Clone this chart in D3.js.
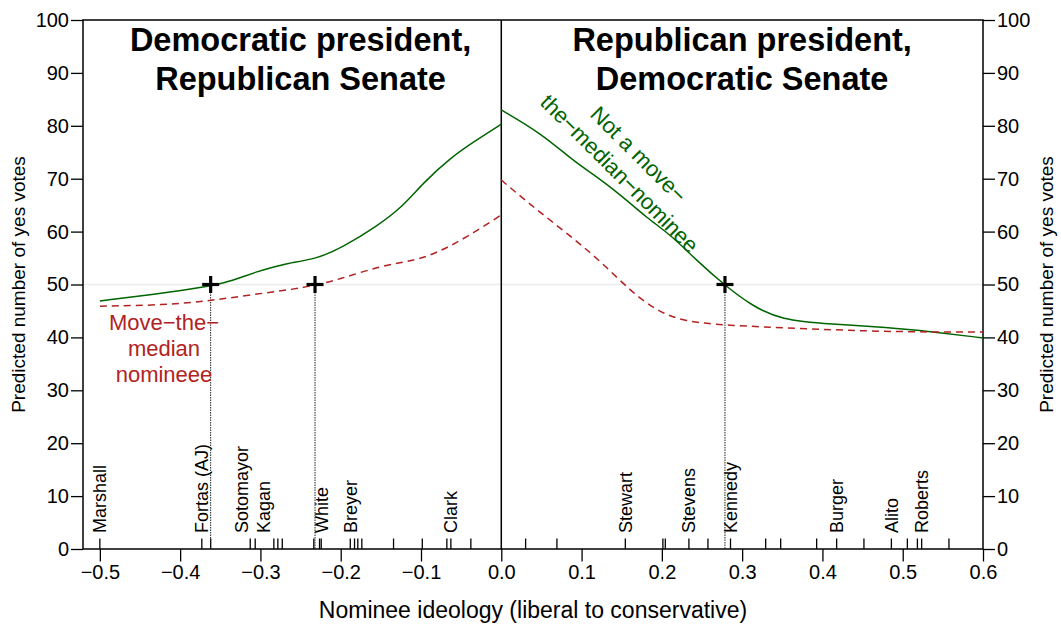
<!DOCTYPE html>
<html>
<head>
<meta charset="utf-8">
<script src="https://cdn.jsdelivr.net/npm/d3@7"></script>
<style>
  body { margin: 0; background: #fff; }
  svg { display: block; font-family: "Liberation Sans", Arial, Helvetica, sans-serif; }
</style>
</head>
<body>
<svg id="chart" width="1061" height="627"></svg>
<script>
// ---- data ----
const xTicks = [-0.5, -0.4, -0.3, -0.2, -0.1, 0.0, 0.1, 0.2, 0.3, 0.4, 0.5, 0.6];
const yTicks = [0, 10, 20, 30, 40, 50, 60, 70, 80, 90, 100];

// Predicted yes votes, Democratic president with a Republican Senate (ideology < 0)
const demNotMtmX = [-0.5, -0.43, -0.365, -0.34, -0.305, -0.272, -0.23, -0.197, -0.156, -0.123, -0.098, -0.064, -0.031, 0];
const demNotMtmY = [46.9, 48.2, 49.6, 50.5, 52.4, 53.9, 54.8, 57.1, 60.9, 64.7, 69.1, 73.9, 77.3, 80.3];
const demMtmX = [-0.5, -0.42, -0.364, -0.305, -0.243, -0.201, -0.147, -0.106, -0.073, -0.044, -0.006, 0];
const demMtmY = [45.9, 46.1, 46.9, 48.2, 49.4, 51.0, 53.7, 54.5, 56.5, 58.9, 62.5, 63.2];

// Predicted yes votes, Republican president with a Democratic Senate (ideology > 0)
const repNotMtmX = [0, 0.0495, 0.091, 0.116, 0.149, 0.182, 0.211, 0.245, 0.278, 0.311, 0.348, 0.411, 0.481, 0.535, 0.6];
const repNotMtmY = [83.0, 78.6, 73.2, 70.7, 66.9, 62.5, 59.4, 54.3, 49.9, 46.1, 43.3, 42.5, 41.9, 41.1, 39.9];
const repMtmX = [0, 0.037, 0.079, 0.12, 0.162, 0.195, 0.228, 0.278, 0.37, 0.453, 0.535, 0.6];
const repMtmY = [69.75, 65.0, 60.0, 54.95, 48.6, 44.9, 43.0, 42.3, 41.7, 41.2, 41.0, 41.0];

// Ideology where a curve crosses the 50-vote threshold
const cutpoints = [-0.362, -0.232, 0.2786];

// Nominee ideology scores (rug) and the named ones
const rugIdeology = [-0.5, -0.373, -0.362, -0.3127, -0.3065, -0.2833, -0.2783, -0.2728, -0.2335,
  -0.2264, -0.2243, -0.1881, -0.1828, -0.1787, -0.1737, -0.1342, -0.0984, -0.0678, -0.0628,
  -0.0379, 0.0303, 0.0693, 0.1545, 0.2013, 0.2043, 0.2337, 0.2574, 0.2855, 0.3293, 0.348,
  0.3928, 0.4177, 0.4517, 0.4859, 0.5058, 0.5183, 0.5236, 0.5576];
const nomineeNames = ["Marshall", "Fortas (AJ)", "Sotomayor", "Kagan", "White", "Breyer", "Clark",
  "Stewart", "Stevens", "Kennedy", "Burger", "Alito", "Roberts"];
const nomineeIdeology = [-0.5, -0.373, -0.3127, -0.3065, -0.2243, -0.1881, -0.0628,
  0.1545, 0.2337, 0.2855, 0.4177, 0.4859, 0.5236];

const panelTitles = [
  { at: -0.25, lines: ["Democratic president,", "Republican Senate"] },
  { at: 0.3, lines: ["Republican president,", "Democratic Senate"] }
];

// ---- drawing ----
const GREEN = "#006400", RED = "#B22222";
const svg = d3.select("#chart");
const x = d3.scaleLinear().domain([-0.521, 0.6]).range([83, 983]);
const y = d3.scaleLinear().domain([0, 100]).range([549, 20]);

// faint reference line at 50 votes
svg.append("line")
  .attr("x1", x.range()[0]).attr("x2", x.range()[1])
  .attr("y1", y(50)).attr("y2", y(50))
  .attr("stroke", "#ececec").attr("stroke-width", 1.5);

// axes
const fmt = d3.format(".1f");
const gx = svg.append("g").attr("transform", `translate(0,${y(0)})`)
  .call(d3.axisBottom(x).tickValues(xTicks).tickFormat(fmt).tickSize(12.5).tickPadding(3));
const gyl = svg.append("g").attr("transform", `translate(${x.range()[0]},0)`)
  .call(d3.axisLeft(y).tickValues(yTicks).tickSize(12).tickPadding(2));
const gyr = svg.append("g").attr("transform", `translate(${x.range()[1]},0)`)
  .call(d3.axisRight(y).tickValues(yTicks).tickSize(12).tickPadding(2));
[gx, gyl, gyr].forEach(g => {
  g.select(".domain").remove();
  g.selectAll(".tick line").attr("stroke", "#000").attr("stroke-width", 1.3);
  g.selectAll(".tick text").attr("fill", "#000").style("font-size", "20px")
    .style("font-family", "\"Liberation Sans\", Arial, sans-serif");
});
gx.selectAll(".tick text").attr("dy", "0.71em");

// plot frame and divider at ideology 0
svg.append("rect")
  .attr("x", x.range()[0]).attr("y", y(100))
  .attr("width", x.range()[1] - x.range()[0]).attr("height", y(0) - y(100))
  .attr("fill", "none").attr("stroke", "#000").attr("stroke-width", 1.5);
svg.append("line")
  .attr("x1", x(0)).attr("x2", x(0)).attr("y1", y(100)).attr("y2", y(0))
  .attr("stroke", "#000").attr("stroke-width", 1.5);

// axis titles
svg.append("text").attr("x", 533).attr("y", 618).attr("text-anchor", "middle")
  .style("font-size", "23px").text("Nominee ideology (liberal to conservative)");
svg.append("text").attr("transform", `translate(25,${(y(0) + y(100)) / 2}) rotate(-90)`)
  .attr("text-anchor", "middle").style("font-size", "19px").text("Predicted number of yes votes");
svg.append("text").attr("transform", `translate(1053,${(y(0) + y(100)) / 2}) rotate(-90)`)
  .attr("text-anchor", "middle").style("font-size", "19px").text("Predicted number of yes votes");

// rug of nominee ideology
svg.append("g").selectAll("line").data(rugIdeology).join("line")
  .attr("x1", d => x(d)).attr("x2", d => x(d))
  .attr("y1", y(0)).attr("y2", y(0) - 10.5)
  .attr("stroke", "#000").attr("stroke-width", 1.3);

// nominee names, nudged apart where they would overlap
const labels = nomineeNames.map((n, i) => ({ name: n, px: x(nomineeIdeology[i]) }))
  .sort((a, b) => a.px - b.px);
const minGap = 22;
for (let it = 0; it < 60; it++) {
  for (let i = 1; i < labels.length; i++) {
    const gap = labels[i].px - labels[i - 1].px;
    if (gap < minGap) {
      const s = (minGap - gap) / 2;
      labels[i - 1].px -= s;
      labels[i].px += s;
    }
  }
}
svg.append("g").selectAll("text").data(labels).join("text")
  .attr("transform", d => `translate(${d.px},${y(0) - 16}) rotate(-90)`)
  .attr("dy", "0.35em")
  .style("font-size", "18px")
  .text(d => d.name);

// dotted drop lines at the 50-vote crossings
svg.append("g").selectAll("line").data(cutpoints).join("line")
  .attr("x1", d => x(d)).attr("x2", d => x(d))
  .attr("y1", y(50)).attr("y2", y(0))
  .attr("stroke", "#222").attr("stroke-width", 1).attr("stroke-dasharray", "1.5,1");

// prediction curves
const line = d3.line().x(d => x(d[0])).y(d => y(d[1])).curve(d3.curveBasis);
const series = [
  { xs: demNotMtmX, ys: demNotMtmY, color: GREEN, dash: null },
  { xs: demMtmX, ys: demMtmY, color: RED, dash: "7,5" },
  { xs: repNotMtmX, ys: repNotMtmY, color: GREEN, dash: null },
  { xs: repMtmX, ys: repMtmY, color: RED, dash: "7,5" }
];
series.forEach(s => {
  svg.append("path")
    .datum(s.xs.map((v, i) => [v, s.ys[i]]))
    .attr("d", line)
    .attr("fill", "none")
    .attr("stroke", s.color)
    .attr("stroke-width", 1.5)
    .attr("stroke-dasharray", s.dash);
});

// crossing markers
const arm = 8.5;
const plus = svg.append("g").selectAll("g").data(cutpoints).join("g")
  .attr("transform", d => `translate(${x(d)},${y(50)})`);
plus.append("line").attr("x1", -arm).attr("x2", arm).attr("stroke", "#000").attr("stroke-width", 3.2);
plus.append("line").attr("y1", -arm).attr("y2", arm).attr("stroke", "#000").attr("stroke-width", 3.2);

// panel titles
panelTitles.forEach(t => {
  const tx = svg.append("text").attr("text-anchor", "middle")
    .style("font-size", "32.5px").style("font-weight", "bold");
  t.lines.forEach((l, i) => {
    tx.append("tspan").attr("x", x(t.at)).attr("y", 51 + i * 39).text(l);
  });
});

// curve annotations
const mtm = svg.append("text").attr("text-anchor", "middle").attr("fill", RED).style("font-size", "22px");
["Move\u2212the\u2212", "median", "nomineee"].forEach((l, i) => {
  mtm.append("tspan").attr("x", 164).attr("y", 330 + i * 26).text(l);
});
const notMtm = svg.append("text").attr("transform", "translate(629,164) rotate(45)")
  .attr("text-anchor", "middle").attr("fill", GREEN).style("font-size", "22px");
["Not a move\u2212", "the\u2212median\u2212nominee"].forEach((l, i) => {
  notMtm.append("tspan").attr("x", 0).attr("y", -6 + i * 27).text(l);
});
</script>
</body>
</html>
